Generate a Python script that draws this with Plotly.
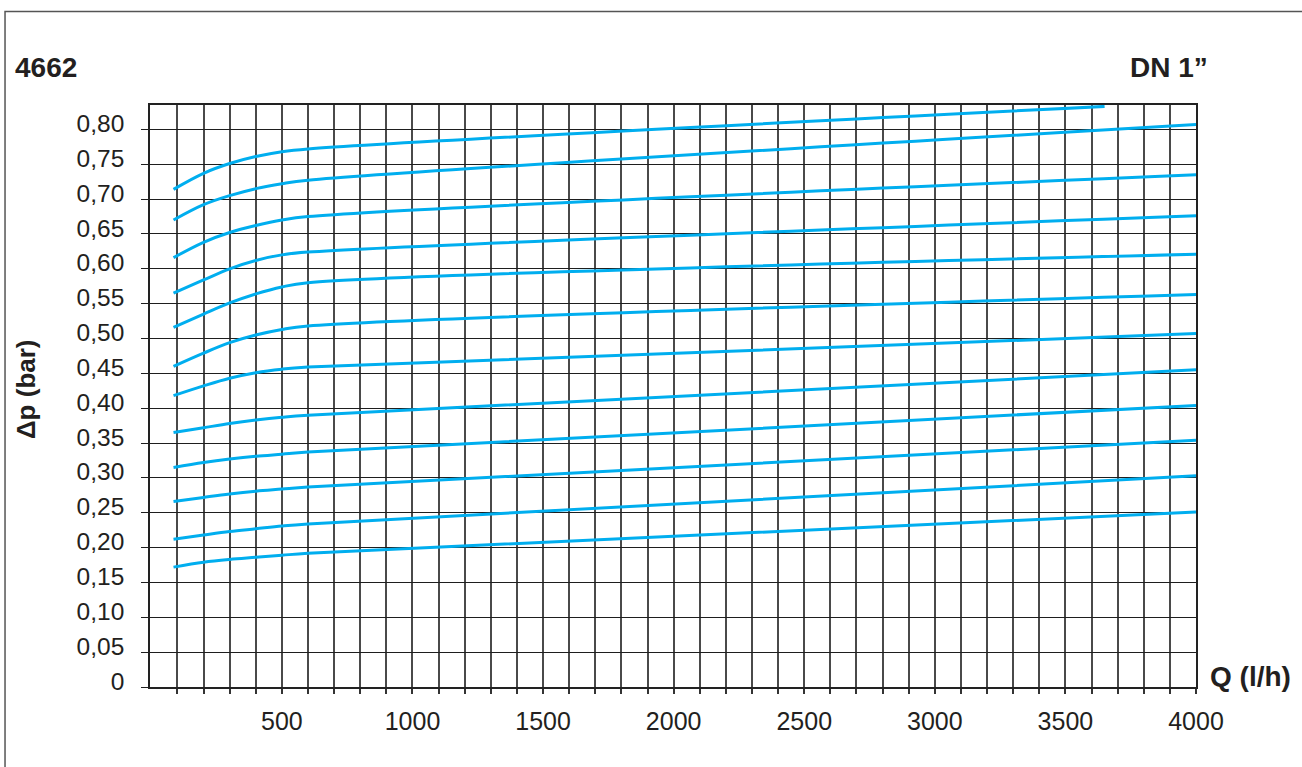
import plotly.graph_objects as go

# Flow rate points (l/h) at which the curves were read
q_pts = [85, 200, 300, 400, 500, 600, 4000]
q_pts_top = [85, 200, 300, 400, 500, 600, 3650]

# Pressure drop curves (bar), top to bottom
c1 = [0.714, 0.737, 0.751, 0.761, 0.768, 0.772, 0.833]
c2 = [0.670, 0.692, 0.705, 0.715, 0.722, 0.727, 0.807]
c3 = [0.616, 0.638, 0.652, 0.662, 0.670, 0.675, 0.735]
c4 = [0.565, 0.584, 0.600, 0.612, 0.620, 0.624, 0.676]
c5 = [0.516, 0.535, 0.551, 0.564, 0.574, 0.580, 0.621]
c6 = [0.460, 0.479, 0.494, 0.505, 0.513, 0.518, 0.563]
c7 = [0.418, 0.432, 0.443, 0.451, 0.456, 0.459, 0.507]
c8 = [0.365, 0.372, 0.378, 0.383, 0.387, 0.390, 0.455]
c9 = [0.315, 0.322, 0.327, 0.331, 0.334, 0.337, 0.404]
c10 = [0.266, 0.272, 0.277, 0.281, 0.284, 0.287, 0.354]
c11 = [0.212, 0.218, 0.223, 0.227, 0.231, 0.234, 0.303]
c12 = [0.172, 0.179, 0.183, 0.186, 0.189, 0.192, 0.251]

curves = [c1, c2, c3, c4, c5, c6, c7, c8, c9, c10, c11, c12]

# Axis ticks
x_tickvals = list(range(100, 4001, 100))
x_ticktext = [str(v) if v % 500 == 0 else "" for v in x_tickvals]
y_tickvals = [round(0.05 * i, 2) for i in range(17)]
y_ticktext = ["0", "0,05", "0,10", "0,15", "0,20", "0,25", "0,30", "0,35", "0,40",
              "0,45", "0,50", "0,55", "0,60", "0,65", "0,70", "0,75", "0,80"]

LINE = "#00aeef"
DARK = "#231f20"
FONT = "Liberation Sans, Arial, Helvetica, sans-serif"

fig = go.Figure()
for i, c in enumerate(curves):
    xs = q_pts_top if i == 0 else q_pts
    fig.add_trace(go.Scatter(x=xs, y=c, mode="lines",
                             line=dict(color=LINE, width=3, shape="spline", smoothing=1),
                             showlegend=False, hoverinfo="skip"))

fig.update_layout(
    width=1302, height=767,
    margin=dict(l=150, r=106, t=105, b=80),
    paper_bgcolor="white", plot_bgcolor="white",
    font=dict(family=FONT, color=DARK),
    showlegend=False,
)
fig.update_xaxes(
    range=[-5, 4000], tickvals=x_tickvals, ticktext=x_ticktext,
    showgrid=True, gridcolor="#4a4a4a", gridwidth=1.6,
    ticks="outside", ticklen=5, tickwidth=1.6, tickcolor="#333",
    showline=True, linecolor="#222", linewidth=1.6, mirror=True,
    zeroline=False, tickfont=dict(size=25, color=DARK),
    ticklabelstandoff=6,
)
fig.update_yaxes(
    range=[0, 0.835], tickvals=y_tickvals, ticktext=y_ticktext,
    showgrid=True, gridcolor="#1e1e1e", gridwidth=1.4,
    ticks="outside", ticklen=7, tickwidth=1.4, tickcolor="#1e1e1e",
    showline=True, linecolor="#222", linewidth=1.6, mirror=True,
    zeroline=False, tickfont=dict(size=24.5, color=DARK),
    ticklabelstandoff=12, ticklabelshift=-6,
)

# Outer frame
fig.add_shape(type="rect", xref="paper", yref="paper",
              x0=-0.1386, y0=-0.3, x1=1.3, y1=1.1607,
              line=dict(color="#555", width=1.5), layer="below")

annos = [
    dict(text="<b>4662</b>", x=-0.131, y=1.0644, xanchor="left", yanchor="middle", size=28, angle=0),
    dict(text="<b>DN 1”</b>", x=1.0134, y=1.0644, xanchor="right", yanchor="middle", size=28, angle=0),
    dict(text="<b>Q (l/h)</b>", x=1.0115, y=0.0172, xanchor="left", yanchor="middle", size=28, angle=0),
    dict(text="<b>Δp (bar)</b>", x=-0.1185, y=0.512, xanchor="center", yanchor="middle", size=26, angle=-90),
]
for a in annos:
    fig.add_annotation(text=a["text"], x=a["x"], y=a["y"], xref="paper", yref="paper",
                       xanchor=a["xanchor"], yanchor=a["yanchor"], showarrow=False,
                       textangle=a["angle"], font=dict(size=a["size"], color=DARK, family=FONT))

fig.write_html("out.html")
